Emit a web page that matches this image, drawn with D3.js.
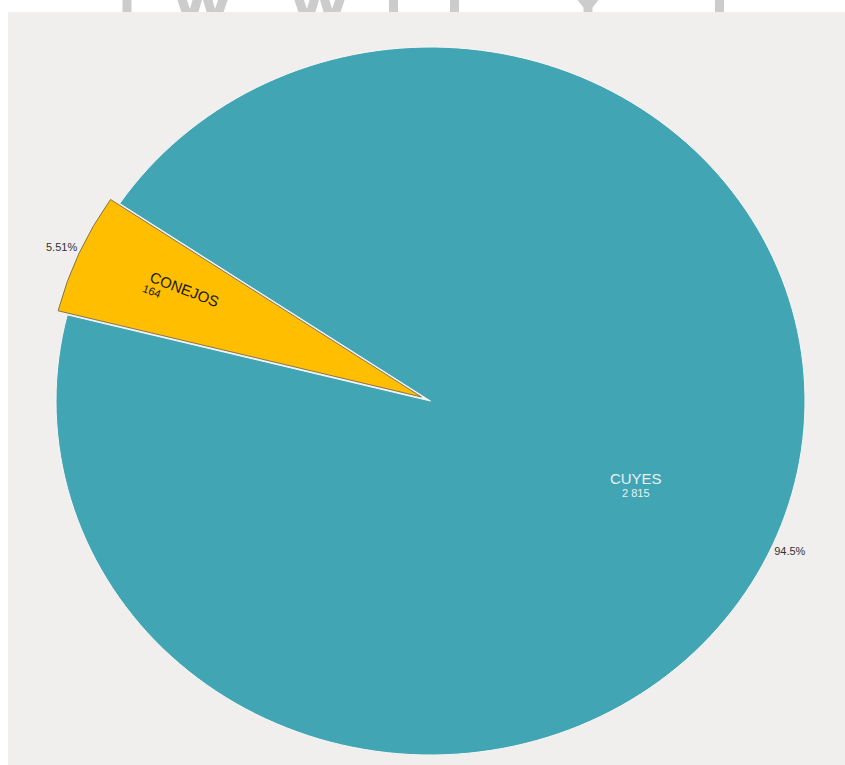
<!DOCTYPE html>
<html>
<head>
<meta charset="utf-8">
<script src="https://cdn.jsdelivr.net/npm/d3@7"></script>
<style>
  html, body { margin: 0; padding: 0; background: #ffffff; }
  svg { display: block; font-family: "Liberation Sans", Arial, sans-serif; }
</style>
</head>
<body>
<svg id="chart" width="845" height="765"></svg>
<script>
// ---- data ----
const categories = ["CUYES", "CONEJOS"];
const values = [2815, 164];
const valueLabels = ["2 815", "164"];
const percentLabels = ["94.5%", "5.51%"];
const colors = ["#42a5b4", "#ffbf00"];
const exploded = [false, true];

// ---- layout ----
const W = 845, H = 765;
const cx = 430.5, cy = 401;
const rx = 374.5, ry = 354;
const explodeDist = 10;
const startDeg = 303.9;

const svg = d3.select("#chart");

// faint watermark glyph remnants above the panel (decoration)
const wm = svg.append("g").attr("fill", "none").attr("stroke", "#cccccc").attr("stroke-width", 9);
[[127], [393.5], [454.5], [719.5]].forEach(([x]) => {
  wm.append("line").attr("x1", x).attr("x2", x).attr("y1", -5).attr("y2", 20);
});
[[178, 227], [295, 344]].forEach(([a, b]) => {
  const m = (a + b) / 2, q = (b - a) * 0.25;
  wm.append("polyline")
    .attr("points", [[a - 6, -30], [a + q, 24], [m, -18], [b - q, 24], [b + 6, -30]].map(p => p.join(",")).join(" "));
});
wm.append("polyline").attr("points", "580,-4 588,6 596,-4");
wm.append("line").attr("x1", 588).attr("x2", 588).attr("y1", 4).attr("y2", 20);

// panel background
svg.append("rect")
  .attr("x", 8).attr("y", 12)
  .attr("width", W - 8).attr("height", H - 12)
  .attr("fill", "#f0efee");

const data = categories.map((c, i) => ({
  cat: c, value: values[i], vlabel: valueLabels[i], plabel: percentLabels[i],
  color: colors[i], exploded: exploded[i]
}));

const pie = d3.pie()
  .sort(null)
  .value(d => d.value)
  .startAngle(startDeg * Math.PI / 180)
  .endAngle(startDeg * Math.PI / 180 + 2 * Math.PI);

const arcs = pie(data);

// arc in ry space, stretched horizontally to ellipse
const arcGen = d3.arc().innerRadius(0).outerRadius(ry);

function offsetOf(a) {
  if (!a.data.exploded) return [0, 0];
  const m = (a.startAngle + a.endAngle) / 2;
  return [explodeDist * Math.sin(m), -explodeDist * Math.cos(m)];
}
function pt(a, r) {
  const m = (a.startAngle + a.endAngle) / 2;
  const o = offsetOf(a);
  return [cx + o[0] + rx * Math.sin(m) * r, cy + o[1] - ry * Math.cos(m) * r];
}

const sliceG = svg.append("g");
arcs.forEach(a => {
  const o = offsetOf(a);
  sliceG.append("g")
    .attr("transform", `translate(${cx + o[0]},${cy + o[1]}) scale(${rx / ry},1)`)
    .append("path")
    .attr("d", arcGen(a))
    .attr("fill", a.data.color)
    .attr("stroke", a.data.exploded ? "#857550" : "#f6f6f6")
    .attr("stroke-width", 1)
    .attr("vector-effect", "non-scaling-stroke");
});

// inner labels
arcs.forEach(a => {
  if (a.data.exploded) {
    const p = pt(a, 0.7);
    const g = svg.append("g")
      .attr("transform", `translate(${p[0]},${p[1]}) rotate(21)`);
    g.append("text")
      .attr("x", 0).attr("y", -2)
      .attr("text-anchor", "middle")
      .attr("font-size", 15)
      .attr("fill", "#1a1a1a")
      .text(a.data.cat);
    g.append("text")
      .attr("x", -39).attr("y", 10)
      .attr("text-anchor", "start")
      .attr("font-size", 11)
      .attr("fill", "#1a1a1a")
      .text(a.data.vlabel);
  } else {
    const p = pt(a, 0.6);
    svg.append("text")
      .attr("x", p[0]).attr("y", p[1] - 3)
      .attr("text-anchor", "middle")
      .attr("font-size", 15)
      .attr("fill", "#e6f2f3")
      .text(a.data.cat);
    svg.append("text")
      .attr("x", p[0]).attr("y", p[1] + 10)
      .attr("text-anchor", "middle")
      .attr("font-size", 11)
      .attr("fill", "#e6f2f3")
      .text(a.data.vlabel);
  }
});

// outside percent labels
arcs.forEach(a => {
  const p = pt(a, 1.0);
  const m = (a.startAngle + a.endAngle) / 2;
  const right = Math.sin(m) > 0;
  const below = -Math.cos(m) > 0;
  svg.append("text")
    .attr("x", right ? p[0] + 1.5 : p[0] - 2)
    .attr("y", below ? p[1] + 10 : p[1] - 2)
    .attr("text-anchor", right ? "start" : "end")
    .attr("font-size", 11)
    .attr("fill", "#333333")
    .text(a.data.plabel);
});
</script>
</body>
</html>
